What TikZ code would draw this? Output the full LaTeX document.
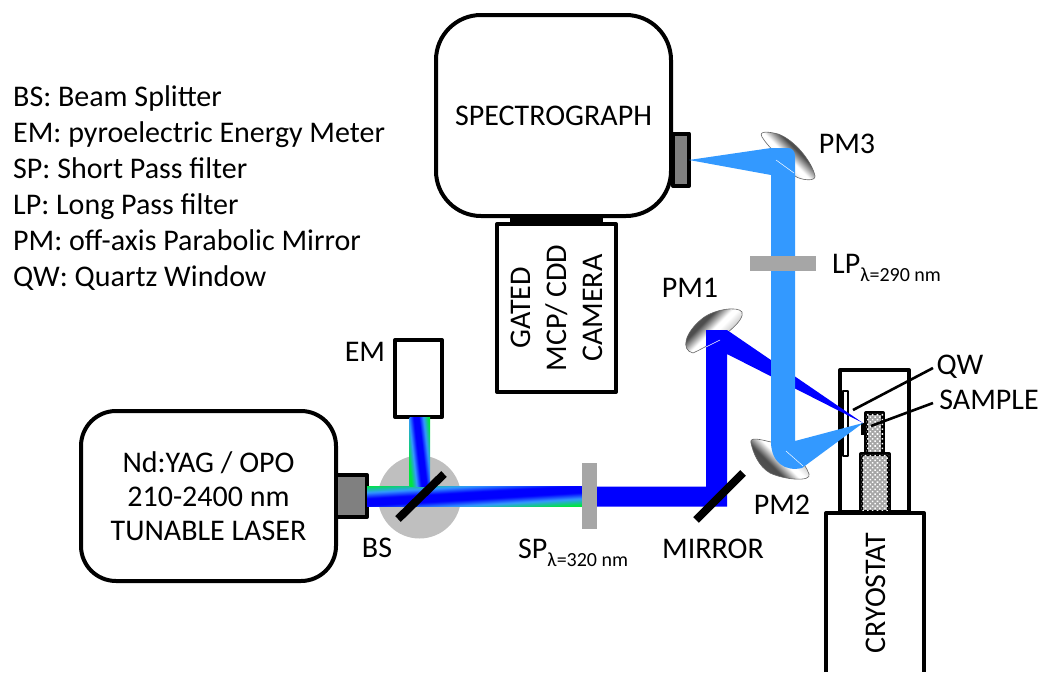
\documentclass[tikz,border=0pt]{standalone}
\usepackage{fontspec}
\setmainfont{Carlito}
\usetikzlibrary{patterns.meta,calc}
\definecolor{PumpClr}{rgb}{0,0,1}
\definecolor{PlClr}{rgb}{0.2,0.6,1}
\definecolor{EdgeClr}{rgb}{0,0.9,0.25}
\definecolor{PortClr}{gray}{0.5}
\definecolor{FilterClr}{gray}{0.65}
\definecolor{DiscClr}{gray}{0.75}
\definecolor{MirrorClr}{gray}{0.4}
\pgfdeclareverticalshading{BeamFade}{100bp}{color(0bp)=(EdgeClr);color(47.3bp)=(EdgeClr);color(48.4bp)=(PlClr);color(49.4bp)=(PumpClr);color(50.6bp)=(PumpClr);color(51.6bp)=(PlClr);color(52.7bp)=(EdgeClr);color(100bp)=(EdgeClr)}
\pgfdeclareverticalshading{MirrorFade}{100bp}{color(0bp)=(gray!80);color(38bp)=(gray!40);color(46bp)=(white);color(50bp)=(white);color(55bp)=(gray!70);color(60bp)=(black!70);color(100bp)=(black!60)}
\newcommand{\SubLam}[1]{\raisebox{-0.28em}{\fontsize{20}{20}\selectfont λ=#1 nm}}
\tikzset{
  lbl/.style={font=\fontsize{30}{36}\selectfont,inner sep=0pt,align=center},
  box/.style={draw=black,line width=4pt,line join=round,fill=white,inner sep=0pt,align=center,
    font=\fontsize{30}{34}\selectfont},
  port/.style={draw=black,line width=4pt,line join=round,fill=PortClr},
  filter/.style={fill=FilterClr},
  mirror/.style={line width=8pt,black},
  finger/.style={draw=black,line width=4pt,line join=round,fill=black!35},
  dots/.style={pattern={Dots[distance=3.4pt,radius=1.1pt,angle=45]},pattern color=white},
  leader/.style={line width=2.6pt,black},
  pm/.style={shading=MirrorFade,draw=MirrorClr,line width=.6pt}
}

\begin{document}
\begin{tikzpicture}[x=1pt,y=-1pt]
\useasboundingbox (0,0) rectangle (1038,672);

% legend
\node[lbl,anchor=base west] (LgBS) at (13,106) {BS: Beam Splitter};
\node[lbl,anchor=base west] (LgEM) at (13,142) {EM: pyroelectric Energy Meter};
\node[lbl,anchor=base west] (LgSP) at (13,178) {SP: Short Pass filter};
\node[lbl,anchor=base west] (LgLP) at (13,214) {LP: Long Pass filter};
\node[lbl,anchor=base west] (LgPM) at (13,250) {PM: off-axis Parabolic Mirror};
\node[lbl,anchor=base west] (LgQW) at (13,286) {QW: Quartz Window};

% splitter disc
\fill[DiscClr] (419.5,497) circle (41.5);

% boxes
\node[box,rounded corners=45pt,minimum width=235pt,minimum height=201pt] (SPEC) at (553.5,115.5) {SPECTROGRAPH};
\node[box,minimum width=119pt,minimum height=168pt] (CAM) at (556.5,308) {};
\node[lbl,rotate=90,font=\fontsize{30}{36}\selectfont] (CAMTXT) at (CAM) {GATED\\MCP/ CDD\\CAMERA};
\fill[black] (510,216) rectangle (603,224);
\draw[port] (673,133.5) rectangle (689,186);
\node[box,rounded corners=35pt,minimum width=255pt,minimum height=170pt] (LAS) at (208.5,496) {Nd:YAG / OPO\\210-2400 nm\\TUNABLE LASER};
\draw[port] (336,475) rectangle (367,517);
\node[box,minimum width=47pt,minimum height=77pt] (EMBOX) at (418.5,378.5) {};

% cryostat
\node[box,minimum width=69pt,minimum height=142pt] (HEAD) at (874.5,441) {};
\draw[finger,fill=white,line width=2.6pt] (843,391) rectangle (848,456);
\draw[finger] (866,413) rectangle (883,454);
\fill[dots] (866,413) rectangle (883,454);
\draw[finger] (861,454) rectangle (889,512);
\fill[dots] (861,454) rectangle (889,512);
\fill[black] (861,423) rectangle (866,435);
\draw[line width=4pt,line join=round,fill=white] (826,672) -- (826,513) -- (924,513) -- (924,672);
\node[lbl,rotate=90] (CRYO) at (876,593) {CRYOSTAT};

% mirrors, behind the beams
\shade[pm,shading angle=45] (693,353) .. controls (680,350) and (685,332) .. (703,318) .. controls (715,309) and (738,306) .. (742,312) .. controls (745,320) and (725,338) .. (693,353) -- cycle;
\shade[pm,shading angle=135] (751,443) .. controls (749,436) and (762,440) .. (771,442) .. controls (790,448) and (805,462) .. (809,474) .. controls (812,482) and (785,480) .. (770,473) .. controls (758,466) and (753,452) .. (751,443) -- cycle;
\shade[pm,shading angle=-45] (762,137) .. controls (758,130) and (770,132) .. (778,134) .. controls (795,140) and (812,162) .. (815,176) .. controls (816,182) and (800,180) .. (795,176) .. controls (785,160) and (770,150) .. (762,137) -- cycle;

% gradient part of the beam
\begin{scope}
\clip (367,486) rectangle (582,506);
\shade[shading=BeamFade,shading angle=3.5] (324,345.5) rectangle (624,645.5);
\end{scope}
\begin{scope}
\clip (409.5,417) rectangle (430,486);
\shade[shading=BeamFade,shading angle=96.6] (307.5,339) rectangle (532.5,564);
\end{scope}

% excitation beam
\fill[PumpClr] (597,486.5) -- (706,486.5) -- (706,330) -- (727,330) -- (863,423) -- (727,354) -- (727,506.5) -- (597,506.5) -- cycle;

% luminescence
\fill[PlClr] (689,160) -- (771,148) -- (788,148) .. controls (792,148) and (795,151) .. (795,156) -- (795,441) -- (863,423) -- (802,468) .. controls (785,472) and (771,462) .. (771,442) -- (771,175) -- cycle;

% thin glints on the mirrors
\draw[white,line width=.5pt] (706,347) -- (720,340);
\draw[white,line width=.5pt] (786,451) -- (803,466);
\draw[white,line width=.5pt] (776,160) -- (794,173);

% optics
\draw[mirror] (398,519) -- (444,474);
\draw[mirror] (696,520) -- (743,473);
\fill[filter] (582,463) rectangle (597,529);
\fill[filter] (750,256) rectangle (816,271);

% labels
\node[lbl] (EM) at (365,352) {EM};
\node[lbl] (BS) at (377,548) {BS};
\node[lbl,anchor=base west] (SP) at (518,558) {SP\SubLam{320}};
\node[lbl] (MIR) at (713,549) {MIRROR};
\node[lbl] (PM1) at (690,288) {PM1};
\node[lbl] (PM2) at (782,505) {PM2};
\node[lbl] (PM3) at (847,144) {PM3};
\node[lbl,anchor=base west] (LP) at (832,273) {LP\SubLam{290}};
\node[lbl] (QW) at (960,367) {QW};
\node[lbl] (SAM) at (989,400) {SAMPLE};

% leaders
\coordinate (QWend) at (853,410);
\coordinate (SAMend) at (871,426);
\draw[leader] (933,368) -- (QWend);
\draw[leader] (933,403) -- (SAMend);
\end{tikzpicture}
\end{document}
